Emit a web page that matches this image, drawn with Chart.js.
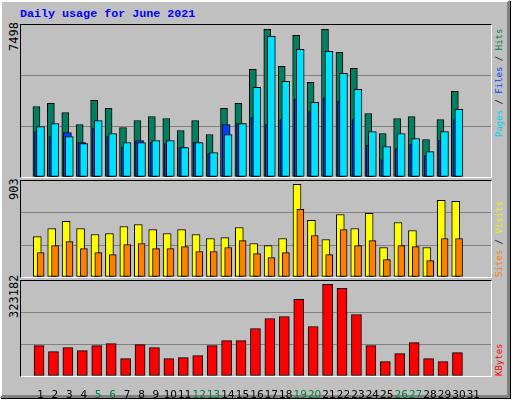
<!DOCTYPE html>
<html><head><meta charset="utf-8">
<script src="https://cdn.jsdelivr.net/npm/chart.js@4"></script>
<style>
html,body{margin:0;padding:0;background:#fff;}
#frame{position:absolute;left:0;top:0;width:505px;height:393px;background:#C0C0C0;border-left:2px solid #fff;border-top:2px solid #fff;border-right:3px solid #808080;border-bottom:3px solid #808080;box-shadow:1px 1px 0 #000;}
.panel{position:absolute;border-left:1px solid #000;border-top:1px solid #000;border-right:1px solid #fff;border-bottom:1px solid #fff;}
canvas{position:absolute;}
.rot{position:absolute;transform:rotate(-90deg);transform-origin:left top;white-space:nowrap;font-family:"DejaVu Sans Mono",monospace;line-height:1;}
#title{position:absolute;left:20px;top:7px;font:bold 11.7px "Liberation Mono",monospace;color:#0000FF;}
</style></head><body>
<div id="frame"></div>
<div id="title">Daily usage for June 2021</div>
<div class="panel" style="left:20px;top:24px;width:470px;height:152px"></div>
<div class="panel" style="left:20px;top:180px;width:470px;height:96px"></div>
<div class="panel" style="left:20px;top:280px;width:470px;height:95px"></div>
<canvas id="c1" style="left:21px;top:25px"></canvas>
<canvas id="c2" style="left:21px;top:181px"></canvas>
<canvas id="c3" style="left:21px;top:281px"></canvas>
<div class="rot" style="left:8px;top:51px;font-size:12px;color:#000">7498</div>
<div class="rot" style="left:8px;top:200px;font-size:12px;color:#000">903</div>
<div class="rot" style="left:8px;top:318px;font-size:12px;color:#000">323182</div>
<div class="rot" style="left:495px;top:137px;font-size:9px"><span style="color:#00D0F0">Pages</span> / <span style="color:#0040FF">Files</span> / <span style="color:#008040">Hits</span></div>
<div class="rot" style="left:495px;top:277px;font-size:9px"><span style="color:#FF8000">Sites</span> / <span style="color:#F0F000">Visits</span></div>
<div class="rot" style="left:495px;top:376px;font-size:9px;color:#FF0000">KBytes</div>
<script>
const days = Array.from({length:31},(_,i)=>i+1);
const weekendDays = [5,6,12,13,19,20,26,27];
const hits  = [3581,3734,3276,2666,3886,3480,2513,2869,3073,2971,2360,2869,2157,3480,3734,5463,7498,5616,7193,4802,7498,6328,5514,3225,2208,2971,3073,1903,2920,4344,0];
const files = [2564,2716,2055,1699,2869,2208,1750,1750,1852,1852,1496,1750,1241,2157,2716,4548,7142,4853,6481,3785,6379,5260,4446,2309,1546,2208,1953,1292,2309,3429,0];
const pages = [2309,2055,2259,1750,2462,2055,1496,1852,1750,1699,1496,1750,1190,2666,2716,3022,2666,2920,3937,3327,3988,3836,2920,1597,885,1445,1648,1089,1852,2920,0];
const visits= [394,472,541,472,414,424,492,511,463,424,463,414,375,384,482,326,306,375,903,551,365,609,472,619,287,531,453,287,746,736,0];
const sites = [238,306,345,277,238,218,316,326,277,277,296,248,248,287,355,228,189,238,658,404,218,463,306,355,169,306,296,160,375,375,0];
const kbytes= [107261,86045,100190,89581,107261,114334,61292,110798,100190,61292,64829,71900,107261,124942,124942,167375,202736,209809,269922,174448,323182,308821,216881,107261,50684,78973,117870,61292,50684,82509,0];

function pts(vals,off){return days.map((d,i)=>({x:d+off,y:vals[i]}));}
function ds(vals,off,color,w,order){return {data:pts(vals,off),backgroundColor:color,borderColor:'#000',borderWidth:1,barThickness:w,grouped:false,order:order,borderSkipped:false};}
function makeChart(id,w,h,datasets,max,showX){
  const c=document.getElementById(id); c.width=w; c.height=h; c.style.width=w+'px'; c.style.height=h+'px';
  return new Chart(c,{type:'bar',data:{datasets},options:{
    responsive:false,animation:false,devicePixelRatio:1,
    layout:{padding:0},
    plugins:{legend:{display:false},tooltip:{enabled:false}},
    scales:{
      x:{type:'linear',min:0.176,max:31.7,display:showX,
        grid:{display:false},border:{display:false},
        afterBuildTicks:s=>{s.ticks=days.map(v=>({value:v}));},
        afterFit:s=>{if(showX) s.height=24;},
        ticks:{autoSkip:false,maxRotation:0,padding:5,font:{family:'DejaVu Sans',size:10.5},
          color:ctx=>weekendDays.includes(ctx.tick.value)?'#008040':'#000',
          callback:v=>String(v)}},
      y:{min:0,max:max,display:true,afterFit:s=>{s.width=0;},
        ticks:{display:false,stepSize:max/3},border:{display:false},
        grid:{drawTicks:false,color:ctx=>(ctx.index===0||ctx.index===3)?'rgba(0,0,0,0)':'#808080',lineWidth:1}}
    }}});
}
makeChart('c1',470,152,[ds(hits,-0.28,'#008060',7,2),ds(pages,-0.134,'#0040FF',8,1),ds(files,0,'#00E0FF',8,0)],7716,false);
makeChart('c2',470,96,[ds(visits,-0.22,'#FFFF00',8,1),ds(sites,0.01,'#FF8000',7,0)],935,false);
makeChart('c3',470,119,[ds(kbytes,-0.1,'#FF0000',10,0)],334812,true);
</script>
</body></html>
